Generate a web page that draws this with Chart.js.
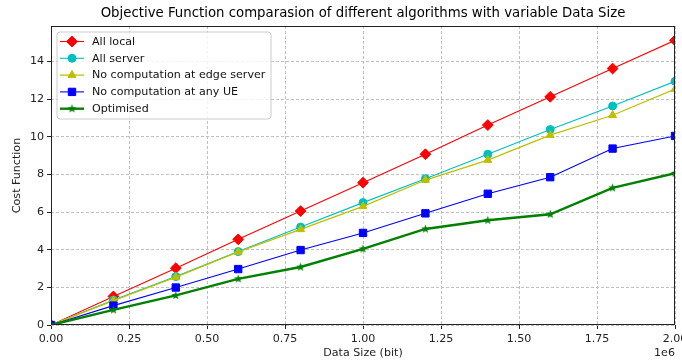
<!DOCTYPE html>
<html>
<head>
<meta charset="utf-8">
<title>Objective Function comparasion</title>
<script src="https://cdn.jsdelivr.net/npm/chart.js@4/dist/chart.umd.min.js"></script>
<style>
  html, body { margin: 0; padding: 0; background: #fff; }
  #grafico { display: block; }
</style>
</head>
<body>
<canvas id="grafico" width="682" height="362"></canvas>
<script>
// Data size in bits (x axis) and cost of each algorithm
const tamanhos = [0, 0.2e6, 0.4e6, 0.6e6, 0.8e6, 1.0e6, 1.2e6, 1.4e6, 1.6e6, 1.8e6, 2.0e6];
const allLocal = [0, 1.52, 3.02, 4.55, 6.05, 7.56, 9.07, 10.62, 12.12, 13.62, 15.12];
const allServer = [0, 1.33, 2.57, 3.90, 5.20, 6.50, 7.77, 9.07, 10.38, 11.63, 12.94];
const semEdge = [0, 1.30, 2.54, 3.88, 5.08, 6.30, 7.70, 8.76, 10.08, 11.14, 12.53];
const semUE = [0, 1.03, 1.99, 2.97, 3.98, 4.89, 5.93, 6.97, 7.85, 9.37, 10.04];
const otimizado = [0, 0.80, 1.57, 2.45, 3.08, 4.04, 5.10, 5.56, 5.88, 7.28, 8.06];

const nomes = ['All local', 'All server', 'No computation at edge server', 'No computation at any UE', 'Optimised'];
const cores = ['#ff0000', '#00bfbf', '#bfbf00', '#0000ff', '#008000'];
const xTicks = [0, 0.25e6, 0.5e6, 0.75e6, 1.0e6, 1.25e6, 1.5e6, 1.75e6, 2.0e6];
const yTicks = [0, 2, 4, 6, 8, 10, 12, 14];

const FONTE = '"DejaVu Sans", sans-serif';
const TAM = 11.1;

// filled five point star, used as marker for the optimised curve
function criarEstrela(cor) {
    const c = document.createElement('canvas');
    c.width = 11; c.height = 11;
    const ctx = c.getContext('2d');
    ctx.beginPath();
    for (let i = 0; i < 10; i++) {
        const r = i % 2 === 0 ? 4.6 : 1.9;
        const a = -Math.PI / 2 + i * Math.PI / 5;
        const px = 5.5 + r * Math.cos(a), py = 5.5 + r * Math.sin(a);
        if (i === 0) ctx.moveTo(px, py); else ctx.lineTo(px, py);
    }
    ctx.closePath();
    ctx.fillStyle = cor;
    ctx.fill();
    return c;
}

const estilos = [
    { pointStyle: 'rectRot', radius: 5.4, largura: 1.1 },
    { pointStyle: 'circle', radius: 4, largura: 1.1 },
    { pointStyle: 'triangle', radius: 4.6, largura: 1.3 },
    { pointStyle: 'rect', radius: 5.2, largura: 1.1 },
    { pointStyle: criarEstrela(cores[4]), radius: 4, largura: 2.4 }
];
const series = [allLocal, allServer, semEdge, semUE, otimizado];

const datasets = series.map((valores, i) => ({
    label: nomes[i],
    data: valores.map((v, k) => ({ x: tamanhos[k], y: v })),
    borderColor: cores[i],
    backgroundColor: cores[i],
    borderWidth: estilos[i].largura,
    pointStyle: estilos[i].pointStyle,
    pointRadius: estilos[i].radius,
    pointBorderWidth: 1,
    pointBorderColor: cores[i],
    pointBackgroundColor: cores[i],
    tension: 0,
    fill: false,
    order: series.length - i
}));

// frame, title, offset text and the legend inside the plot area
const extras = {
    id: 'extras',
    afterDatasetsDraw(chart) {
        const { ctx, chartArea: a } = chart;
        ctx.save();
        ctx.strokeStyle = '#222';
        ctx.lineWidth = 1;
        ctx.strokeRect(Math.round(a.left) + 0.5, Math.round(a.top) + 0.5,
            Math.round(a.right - a.left) - 1, Math.round(a.bottom - a.top) - 1);

        // legend box
        const bx = 57, by = 32, bw = 214, bh = 87, rr = 3;
        ctx.beginPath();
        ctx.moveTo(bx + rr, by);
        ctx.arcTo(bx + bw, by, bx + bw, by + bh, rr);
        ctx.arcTo(bx + bw, by + bh, bx, by + bh, rr);
        ctx.arcTo(bx, by + bh, bx, by, rr);
        ctx.arcTo(bx, by, bx + bw, by, rr);
        ctx.closePath();
        ctx.fillStyle = 'rgba(255,255,255,0.8)';
        ctx.fill();
        ctx.strokeStyle = '#cccccc';
        ctx.stroke();

        ctx.font = TAM + 'px ' + FONTE;
        ctx.textBaseline = 'middle';
        ctx.textAlign = 'left';
        nomes.forEach((nome, i) => {
            const y = 41.5 + i * 16.8;
            ctx.strokeStyle = cores[i];
            ctx.lineWidth = estilos[i].largura;
            ctx.beginPath();
            ctx.moveTo(60, y);
            ctx.lineTo(84, y);
            ctx.stroke();
            ctx.fillStyle = cores[i];
            ctx.lineWidth = 1;
            if (Chart.helpers && Chart.helpers.drawPoint) {
                Chart.helpers.drawPoint(ctx, { pointStyle: estilos[i].pointStyle, radius: estilos[i].radius, rotation: 0, borderWidth: 1 }, 72, y);
            }
            ctx.fillStyle = '#111';
            ctx.fillText(nome, 92, y + 0.5);
        });

        ctx.restore();
    },
    afterDraw(chart) {
        const { ctx, chartArea: a } = chart;
        ctx.save();
        ctx.fillStyle = '#000';
        ctx.font = '13.3px ' + FONTE;
        ctx.textAlign = 'center';
        ctx.textBaseline = 'middle';
        ctx.fillText('Objective Function comparasion of different algorithms with variable Data Size', (a.left + a.right) / 2, 14);
        ctx.font = TAM + 'px ' + FONTE;
        ctx.textAlign = 'right';
        ctx.fillStyle = '#222';
        ctx.fillText('1e6', a.right, 353);
        ctx.restore();
    }
};

const gradeComum = {
    color: '#c0c0c0',
    lineWidth: 1,
    tickColor: '#222',
    tickLength: 4,
    tickWidth: 1
};

new Chart(document.getElementById('grafico'), {
    type: 'line',
    data: { datasets },
    options: {
        responsive: false,
        animation: false,
        devicePixelRatio: 1,
        layout: { padding: { top: 26, right: 7, left: 0, bottom: 0 } },
        plugins: { legend: { display: false }, title: { display: false }, tooltip: { enabled: false } },
        scales: {
            x: {
                type: 'linear',
                min: 0,
                max: 2e6,
                afterBuildTicks: s => { s.ticks = xTicks.map(v => ({ value: v })); },
                afterFit: s => { s.height = 37; s.paddingLeft = 0; s.paddingRight = 0; },
                ticks: {
                    color: '#222',
                    font: { family: FONTE, size: TAM },
                    padding: 3,
                    maxRotation: 0,
                    autoSkip: false,
                    callback: v => (v / 1e6).toFixed(2)
                },
                grid: gradeComum,
                border: { display: false, dash: [3, 2] },
                title: {
                    display: true,
                    text: 'Data Size (bit)',
                    color: '#222',
                    font: { family: FONTE, size: TAM },
                    padding: { top: 2, bottom: 2 }
                }
            },
            y: {
                min: 0,
                max: 15.88,
                afterBuildTicks: s => { s.ticks = yTicks.map(v => ({ value: v })); },
                afterFit: s => { s.width = 51; s.paddingTop = 0; s.paddingBottom = 0; },
                ticks: {
                    color: '#222',
                    font: { family: FONTE, size: TAM },
                    padding: 3,
                    autoSkip: false,
                    callback: v => String(v)
                },
                grid: gradeComum,
                border: { display: false, dash: [3, 2] },
                title: {
                    display: true,
                    text: 'Cost Function',
                    color: '#222',
                    font: { family: FONTE, size: TAM },
                    padding: { top: 10, bottom: 0 }
                }
            }
        }
    },
    plugins: [extras]
});
</script>
</body>
</html>
